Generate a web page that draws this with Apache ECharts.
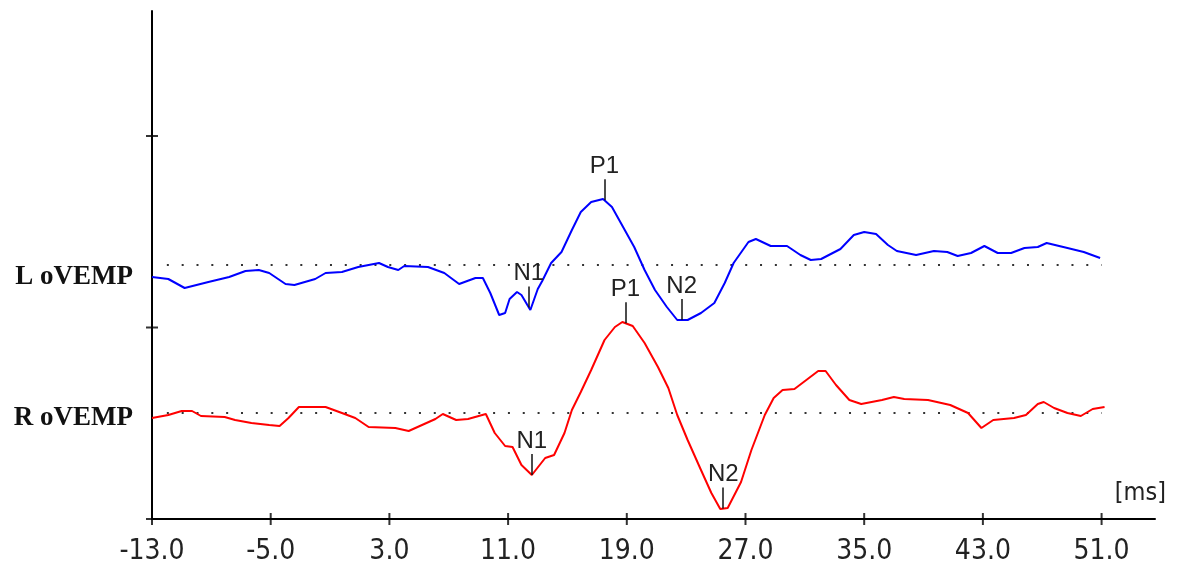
<!DOCTYPE html>
<html>
<head>
<meta charset="utf-8">
<script src="https://cdn.jsdelivr.net/npm/echarts@6/dist/echarts.min.js"></script>
<style>
  html, body { margin: 0; padding: 0; background: #fff; }
  #chart { width: 1181px; height: 572px; }
</style>
</head>
<body>
<div id="chart"></div>
<script>
// x axis in ms, y axis in display units (one tick division = 191.5)
var xTickValues = [-13, -5, 3, 11, 19, 27, 35, 43, 51];
var yTickValues = [0, 191.5, 383];
var channelNames = ['L oVEMP', 'R oVEMP'];
var baselines = [254, 106];
var dotRange = [-12, 51];

// L oVEMP (blue), amplitude relative to its baseline
var lTimes = [-13.0, -11.9, -10.8, -9.2, -7.8, -6.7, -5.8, -5.1, -4.0, -3.4,
              -2.0, -1.3, -0.2, 0.9, 2.3, 2.9, 3.6, 4.0, 5.6, 6.7,
              7.7, 8.8, 9.3, 9.8, 10.4, 10.8, 11.1, 11.6, 11.9, 12.5,
              13.0, 13.3, 13.9, 14.6, 15.3, 15.9, 16.6, 17.4, 18.0, 18.6,
              19.5, 20.2, 20.9, 21.7, 22.4, 23.1, 24.0, 24.9, 25.6, 26.2,
              27.2, 27.7, 28.7, 29.8, 30.7, 31.4, 32.1, 33.4, 34.3, 35.0,
              35.8, 36.6, 37.2, 38.5, 39.7, 40.6, 41.3, 42.2, 43.1, 44.0,
              44.9, 45.8, 46.7, 47.3, 48.7, 49.8, 50.9];
var lValues = [-12, -14, -23, -17, -12, -6, -5, -8, -19, -20,
               -14, -8, -7, -2, 2, -2, -5, -1, -2, -8,
               -19, -13, -13, -28, -50, -48, -34, -27, -30, -45,
               -24, -16, 2, 13, 35, 53, 63, 66, 58, 42,
               18, -5, -25, -42, -55, -55, -48, -38, -18, 2,
               23, 26, 19, 19, 10, 5, 6, 16, 30, 33,
               31, 20, 14, 10, 14, 13, 9, 12, 19, 12,
               12, 17, 18, 22, 17, 13, 7];

// R oVEMP (red)
var rTimes = [-13.0, -11.9, -11.0, -10.3, -9.7, -8.1, -7.4, -6.3, -5.1, -4.4,
              -3.8, -3.1, -1.3, -0.2, 0.7, 1.6, 3.4, 4.3, 5.2, 6.1,
              6.6, 7.5, 8.3, 9.5, 10.1, 10.8, 11.3, 11.9, 12.6, 13.5,
              14.1, 14.8, 15.3, 15.9, 16.6, 17.5, 18.2, 18.7, 19.4, 20.2,
              21.1, 21.8, 22.4, 23.1, 24.0, 24.7, 25.3, 25.8, 26.7, 27.4,
              28.3, 28.9, 29.5, 30.3, 31.1, 31.9, 32.4, 33.1, 34.0, 34.8,
              35.5, 36.2, 37.0, 37.7, 39.3, 40.2, 40.8, 42.0, 42.9, 43.7,
              45.1, 45.9, 46.7, 47.1, 47.8, 48.7, 49.6, 50.4, 51.2];
var rValues = [-5, -2, 2, 2, -3, -4, -7, -10, -12, -13,
               -5, 6, 6, 0, -5, -14, -15, -18, -12, -6,
               -1, -7, -6, -1, -20, -33, -34, -52, -62, -45,
               -42, -20, 3, 21, 43, 73, 86, 91, 87, 70,
               46, 25, -2, -27, -57, -80, -96, -95, -69, -37,
               -2, 15, 23, 24, 33, 42, 42, 28, 13, 9,
               11, 13, 16, 14, 13, 10, 8, 0, -15, -7,
               -5, -2, 9, 11, 5, 0, -3, 4, 6];

// peak markers
var peakNames = ['N1', 'P1', 'N2'];
var lPeakTimes = [12.4, 17.5, 22.7];
var rPeakTimes = [12.6, 18.9, 25.5];

var markerLen = 21;
var labelFont = '"Liberation Sans", Arial, sans-serif';
var narrowFont = '"Liberation Sans Narrow", "Arial Narrow", "DejaVu Sans Condensed", sans-serif';

function valueAt(times, values, t) {
    for (var i = 0; i < times.length - 1; i++) {
        if (t >= times[i] && t <= times[i + 1]) {
            var f = (t - times[i]) / (times[i + 1] - times[i]);
            return values[i] + f * (values[i + 1] - values[i]);
        }
    }
    return values[values.length - 1];
}

function traceData(times, values, base) {
    return times.map(function(t, i) { return [t, base + values[i]]; });
}

function markers(times, values, base, peakTimes) {
    return peakTimes.map(function(t, i) {
        var y = base + valueAt(times, values, t);
        return [
            { name: peakNames[i], coord: [t, y] },
            { name: peakNames[i], coord: [t, y + markerLen] }
        ];
    });
}

function markLineOpt(data) {
    return {
        silent: true,
        animation: false,
        symbol: ['none', 'none'],
        lineStyle: { color: '#111', width: 1.5, type: 'solid' },
        label: {
            show: true,
            position: 'end',
            formatter: '{b}',
            distance: 1,
            color: '#222',
            fontSize: 24,
            fontFamily: labelFont
        },
        data: data
    };
}

function dotted(base) {
    return {
        type: 'line',
        data: [[dotRange[0], base], [dotRange[1], base]],
        showSymbol: false,
        silent: true,
        lineStyle: { color: '#333', width: 2, type: [2, 12.83] },
        z: 1
    };
}

// crossing tick marks, placed on the axes through the scales
function tickMarks(data, size) {
    return {
        type: 'scatter',
        data: data,
        symbol: 'rect',
        symbolSize: size,
        itemStyle: { color: '#000' },
        clip: false,
        silent: true,
        z: 5
    };
}

var labelValues = [baselines[0] + lValues[0], baselines[1] + rValues[0]];

var myChart = echarts.init(document.getElementById('chart'));

var option = {
    animation: false,
    title: {
        text: '[ms]',
        right: 10,
        top: 476,
        textStyle: { fontFamily: narrowFont, fontSize: 25, fontWeight: 'normal', color: '#222' }
    },
    grid: { left: 152, right: 26, top: 11, bottom: 53 },
    xAxis: {
        type: 'value',
        min: -13,
        max: 54.6,
        splitLine: { show: false },
        axisLine: { show: true, onZero: false, lineStyle: { color: '#000', width: 2 } },
        axisTick: { show: false },
        axisLabel: {
            customValues: xTickValues,
            formatter: function(v) { return v.toFixed(1); },
            margin: 19,
            color: '#222',
            fontSize: 28,
            fontFamily: narrowFont
        }
    },
    yAxis: {
        type: 'value',
        min: 0,
        max: 508,
        splitLine: { show: false },
        axisLine: { show: true, onZero: false, lineStyle: { color: '#000', width: 2 } },
        axisTick: { show: false },
        axisLabel: {
            customValues: labelValues,
            formatter: function(v) {
                var i = labelValues.indexOf(v);
                return i >= 0 ? channelNames[i] : '';
            },
            margin: 19,
            color: '#111',
            fontSize: 27,
            fontWeight: 'bold',
            fontFamily: '"Liberation Serif", "Times New Roman", serif'
        }
    },
    series: [
        dotted(baselines[0]),
        dotted(baselines[1]),
        {
            name: channelNames[0],
            type: 'line',
            data: traceData(lTimes, lValues, baselines[0]),
            showSymbol: false,
            lineStyle: { color: '#0000ff', width: 2 },
            z: 3,
            markLine: markLineOpt(markers(lTimes, lValues, baselines[0], lPeakTimes))
        },
        {
            name: channelNames[1],
            type: 'line',
            data: traceData(rTimes, rValues, baselines[1]),
            showSymbol: false,
            lineStyle: { color: '#ff0000', width: 2 },
            z: 3,
            markLine: markLineOpt(markers(rTimes, rValues, baselines[1], rPeakTimes))
        },
        tickMarks(xTickValues.map(function(v) { return [v, 0]; }), [2, 12]),
        tickMarks(yTickValues.map(function(v) { return [xTickValues[0], v]; }), [12, 2])
    ]
};

myChart.setOption(option);
</script>
</body>
</html>
